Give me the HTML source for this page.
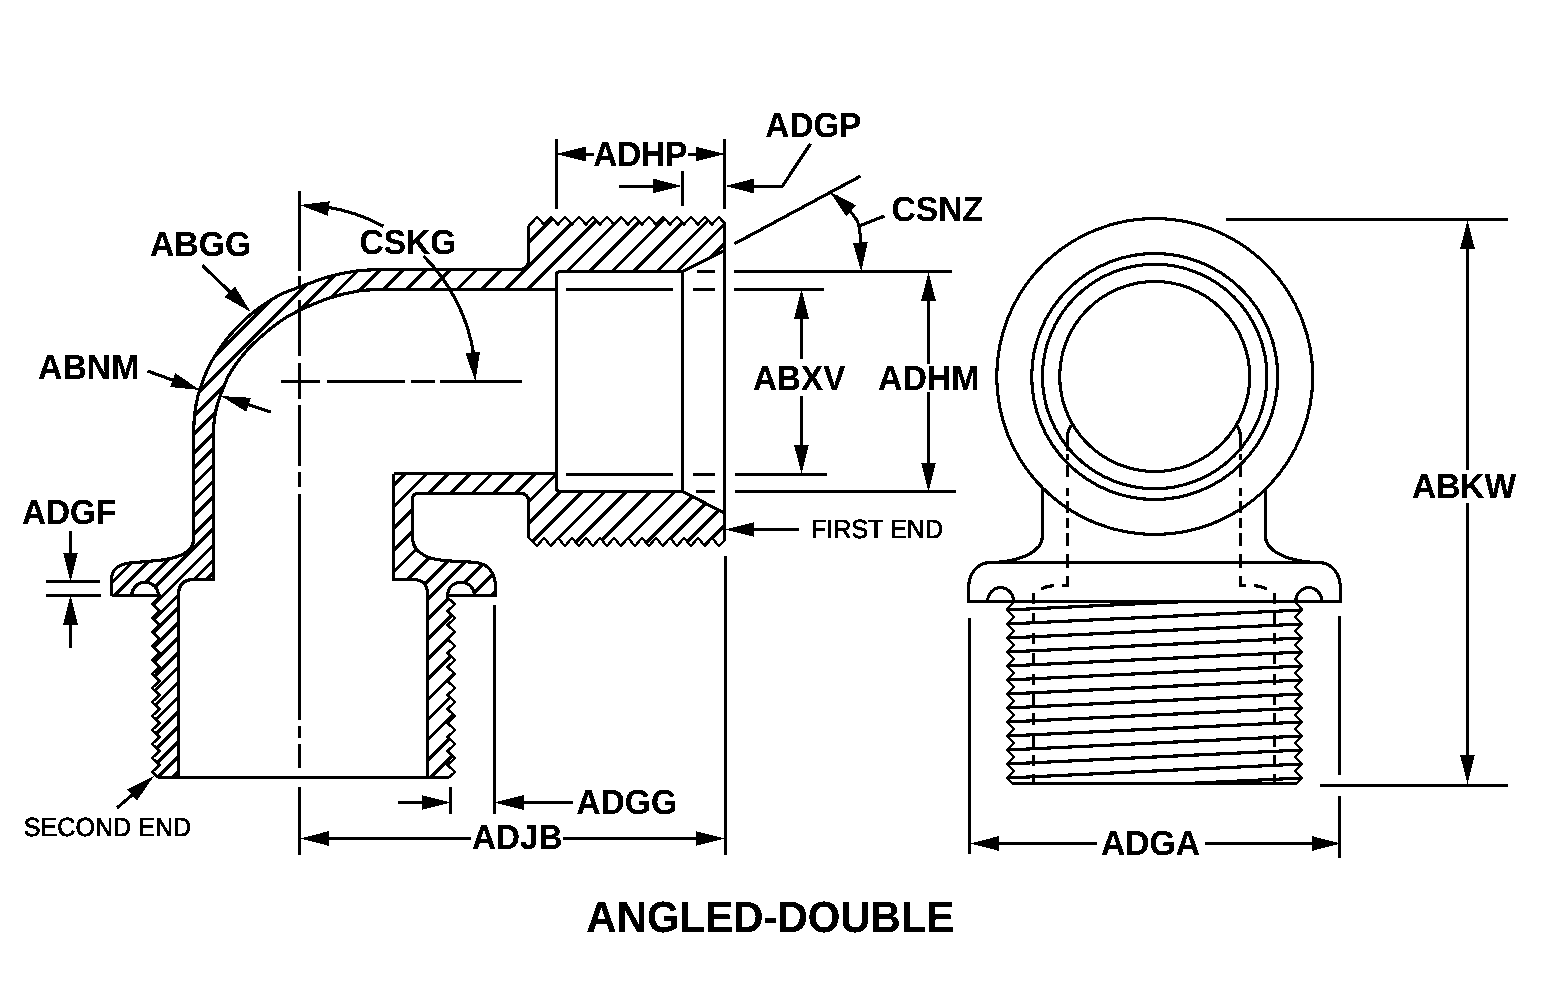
<!DOCTYPE html>
<html lang="en"><head><meta charset="utf-8"><title>ANGLED-DOUBLE</title>
<style>
html,body{margin:0;padding:0;background:#fff}
svg{display:block;filter:url(#bw)}
svg path,svg circle{fill:none;stroke:#000;stroke-width:3.2;stroke-linecap:butt;stroke-linejoin:miter}
svg path.h{fill:#000;stroke:none}
svg text.rg{stroke:#000;stroke-width:0.55px}
svg .hh path{stroke-width:3.35}
svg path.th{stroke-width:2.35}
svg circle,svg path.cv{stroke-width:3.1}
svg text{font-family:"Liberation Sans",Arial,Helvetica,sans-serif;fill:#000;stroke:none}
</style></head><body>
<svg width="1541" height="1008" viewBox="0 0 1541 1008" shape-rendering="crispEdges" text-rendering="geometricPrecision">
<rect width="1541" height="1008" fill="#fff" stroke="none"/>
<defs>
<filter id="bw" x="0" y="0" width="100%" height="100%" color-interpolation-filters="sRGB"><feColorMatrix type="saturate" values="0"/><feComponentTransfer><feFuncR type="discrete" tableValues="0 0 0 1 1"/><feFuncG type="discrete" tableValues="0 0 0 1 1"/><feFuncB type="discrete" tableValues="0 0 0 1 1"/></feComponentTransfer></filter>
<clipPath id="ca"><path d="M111.5 595.5L111.5 579C112 569.5 119 564 130 563L158 560.5C176 558.8 193.5 553 193.5 540L193.5 436C193.62 433.33 193.78 425.17 194.2 420C194.62 414.83 195.03 410.17 196 405C196.97 399.83 197.9 395.33 200 389C202.1 382.67 205.77 373 208.6 367C211.43 361 213.93 357.73 217 353C220.07 348.27 222.45 344.1 227 338.6C231.55 333.1 238.57 325.37 244.3 320C250.03 314.63 255.45 310.6 261.4 306.4C267.35 302.2 273.8 297.97 280 294.8C286.2 291.63 291.45 290.1 298.6 287.4C305.75 284.7 316.5 280.73 322.9 278.6C329.3 276.47 331.05 275.9 337 274.6C342.95 273.3 351.43 271.65 358.6 270.8C365.77 269.95 376.43 269.72 380 269.5L519 269.5Q528.5 269.5 528.5 261L528.5 226.2L537 217.2L544 224.4L551 217.2L558 224.4L565 217.2L572 224.4L579 217.2L586 224.4L593 217.2L600 224.4L607 217.2L614 224.4L621 217.2L628 224.4L635 217.2L642 224.4L649 217.2L656 224.4L663 217.2L670 224.4L677 217.2L684 224.4L691 217.2L698 224.4L705 217.2L712 224.4L719 217.2L724.5 223.2L724.5 250.5L682.5 271.5L560.5 271.5Q556.5 271.5 556.5 275.5L556.5 289.5L400 289.5C396.67 289.53 386.9 289.47 380 289.7C373.1 289.93 366.93 289.53 358.6 290.9C350.27 292.27 340 294.6 330 297.9C320 301.2 306.93 306.78 298.6 310.7C290.27 314.62 287.38 316.03 280 321.4C272.62 326.77 260.97 336.7 254.3 342.9C247.63 349.1 244.28 353.13 240 358.6C235.72 364.07 231.52 370.47 228.6 375.7C225.68 380.93 224.18 385.78 222.5 390C220.82 394.22 219.7 397.17 218.5 401C217.3 404.83 216.08 409 215.3 413C214.52 417 214.1 421 213.8 425C213.5 429 213.55 435 213.5 437L213.5 579.5L194 579.5Q178.5 579.5 178.5 595L178.5 777.5L158.2 777.5L152.3 772L159.5 765L152.3 758L159.5 751L152.3 744L159.5 737L152.3 730L159.5 723L152.3 716L159.5 709L152.3 702L159.5 695L152.3 688L159.5 681L152.3 674L159.5 667L152.3 660L159.5 653L152.3 646L159.5 639L152.3 632L159.5 625L152.3 618L159.5 611L152.3 604L161.2 595.5L158.4 595.5A13.3 13.3 0 0 0 131.8 595.5L111.5 595.5Z"/></clipPath>
<clipPath id="cb"><path d="M393.5 473.5L556.5 473.5L556.5 487Q556.5 491.5 561 491.5L682.5 491.5L724.5 513L724.5 540.5L719 546.1L712 537.9L705 546.1L698 537.9L691 546.1L684 537.9L677 546.1L670 537.9L663 546.1L656 537.9L649 546.1L642 537.9L635 546.1L628 537.9L621 546.1L614 537.9L607 546.1L600 537.9L593 546.1L586 537.9L579 546.1L572 537.9L565 546.1L558 537.9L551 546.1L544 537.9L537 546.1L528.5 537.5L528.5 501.5Q528.5 493.5 520.5 493.5L418 493.5Q412.5 493.5 412.5 499L412.5 538C413 549 420 553 426 556.3C432 559 438 559.8 443.5 560.4C450 561 456 561.4 461 561.6C467 561.9 473 562 477.5 562.8C483 563.8 486.5 565.5 489.3 568.8C492 572 493.5 575 494.3 578C495.3 581.5 495.5 584 495.5 587L495.5 595.5L474.4 595.5A13.4 13.4 0 0 0 447.6 595.5L447.6 597.6L454.8 604L447.6 611L454.8 618L447.6 625L454.8 632L447.6 639L454.8 646L447.6 653L454.8 660L447.6 667L454.8 674L447.6 681L454.8 688L447.6 695L454.8 702L447.6 709L454.8 716L447.6 723L454.8 730L447.6 737L454.8 744L447.6 751L454.8 758L447.6 765L454.8 772L449 777.5L427.5 777.5L427.5 594Q427.5 579.5 413 579.5L393.5 579.5L393.5 473.5Z"/></clipPath>
<clipPath id="ct"><rect x="1000" y="601.5" width="310" height="182"/></clipPath>
</defs>
<g id="hatch" class="hh">
<g clip-path="url(#ca)"><path d="M150 421L740 -169M150 441L740 -149M150 460L740 -130M248.5 380L740 -111.5M270 380L740 -90M293 380L740 -67M316 380L740 -44M340 380L740 -20M366.5 380L740 6.5M391 380L740 31M415 380L740 55M437 380L740 77M558 280.6L740 98.6M558 302.7L740 120.7M558 325.6L740 143.6M558 347L740 165M558 370.6L740 188.6M558 390.6L740 208.6M558 410L740 228M100 527.9L247.9 380M100 546.8L266.8 380M100 562.2L282.2 380M100 578.5L298.5 380M100 594.4L314.4 380M100 610.3L330.3 380M100 627.7L347.7 380M100 642.1L362.1 380M100 658.4L378.4 380M100 673.5L393.5 380M100 686L230 556M100 700.9L230 570.9M100 715.8L230 585.8M100 730.7L230 600.7M100 745.6L230 615.6M100 760.5L230 630.5M100 775.4L230 645.4M100 790.3L230 660.3M100 805.2L230 675.2M100 820.1L230 690.1M100 835L230 705M100 849.9L230 719.9"/></g>
<g clip-path="url(#cb)"><path d="M380 498.7L740 138.7M380 520.4L740 160.4M380 542.1L740 182.1M380 563.8L740 203.8M380 585.5L740 225.5M380 607.2L740 247.2M380 628.9L740 268.9M500 530.6L740 290.6M500 552.3L740 312.3M500 574L740 334M500 596.5L740 356.5M500 618L740 378M500 642L740 402M500 666.5L740 426.5M500 689L740 449M500 709L740 469M500 729L740 489M500 750L740 510M380 646.9L500 526.9M380 667L500 547M380 687.1L500 567.1M380 707.2L500 587.2M380 727.3L500 607.3M380 747.4L500 627.4M380 767.5L500 647.5M380 787.6L500 667.6M380 807.7L500 687.7M380 827.8L500 707.8"/></g>
</g>
<g id="outline">
<path d="M111.5 595.5L111.5 579C112 569.5 119 564 130 563L158 560.5C176 558.8 193.5 553 193.5 540L193.5 436C193.62 433.33 193.78 425.17 194.2 420C194.62 414.83 195.03 410.17 196 405C196.97 399.83 197.9 395.33 200 389C202.1 382.67 205.77 373 208.6 367C211.43 361 213.93 357.73 217 353C220.07 348.27 222.45 344.1 227 338.6C231.55 333.1 238.57 325.37 244.3 320C250.03 314.63 255.45 310.6 261.4 306.4C267.35 302.2 273.8 297.97 280 294.8C286.2 291.63 291.45 290.1 298.6 287.4C305.75 284.7 316.5 280.73 322.9 278.6C329.3 276.47 331.05 275.9 337 274.6C342.95 273.3 351.43 271.65 358.6 270.8C365.77 269.95 376.43 269.72 380 269.5L519 269.5Q528.5 269.5 528.5 261L528.5 226.2M724.5 223.2L724.5 250.5L682.5 271.5L560.5 271.5Q556.5 271.5 556.5 275.5L556.5 289.5L400 289.5C396.67 289.53 386.9 289.47 380 289.7C373.1 289.93 366.93 289.53 358.6 290.9C350.27 292.27 340 294.6 330 297.9C320 301.2 306.93 306.78 298.6 310.7C290.27 314.62 287.38 316.03 280 321.4C272.62 326.77 260.97 336.7 254.3 342.9C247.63 349.1 244.28 353.13 240 358.6C235.72 364.07 231.52 370.47 228.6 375.7C225.68 380.93 224.18 385.78 222.5 390C220.82 394.22 219.7 397.17 218.5 401C217.3 404.83 216.08 409 215.3 413C214.52 417 214.1 421 213.8 425C213.5 429 213.55 435 213.5 437L213.5 579.5L194 579.5Q178.5 579.5 178.5 595L178.5 777.5L158.2 777.5M161.2 595.5L158.4 595.5A13.3 13.3 0 0 0 131.8 595.5L111.5 595.5" stroke-linecap="square"/>
<path d="M528.5 226.2L537 217.2L544 224.4L551 217.2L558 224.4L565 217.2L572 224.4L579 217.2L586 224.4L593 217.2L600 224.4L607 217.2L614 224.4L621 217.2L628 224.4L635 217.2L642 224.4L649 217.2L656 224.4L663 217.2L670 224.4L677 217.2L684 224.4L691 217.2L698 224.4L705 217.2L712 224.4L719 217.2L724.5 223.2M158.2 777.5L152.3 772L159.5 765L152.3 758L159.5 751L152.3 744L159.5 737L152.3 730L159.5 723L152.3 716L159.5 709L152.3 702L159.5 695L152.3 688L159.5 681L152.3 674L159.5 667L152.3 660L159.5 653L152.3 646L159.5 639L152.3 632L159.5 625L152.3 618L159.5 611L152.3 604L161.2 595.5" class="th"/>
<path d="M393.5 473.5L556.5 473.5L556.5 487Q556.5 491.5 561 491.5L682.5 491.5L724.5 513L724.5 540.5M528.5 537.5L528.5 501.5Q528.5 493.5 520.5 493.5L418 493.5Q412.5 493.5 412.5 499L412.5 538C413 549 420 553 426 556.3C432 559 438 559.8 443.5 560.4C450 561 456 561.4 461 561.6C467 561.9 473 562 477.5 562.8C483 563.8 486.5 565.5 489.3 568.8C492 572 493.5 575 494.3 578C495.3 581.5 495.5 584 495.5 587L495.5 595.5L474.4 595.5A13.4 13.4 0 0 0 447.6 595.5L447.6 597.6M449 777.5L427.5 777.5L427.5 594Q427.5 579.5 413 579.5L393.5 579.5L393.5 473.5" stroke-linecap="square"/>
<path d="M724.5 540.5L719 546.1L712 537.9L705 546.1L698 537.9L691 546.1L684 537.9L677 546.1L670 537.9L663 546.1L656 537.9L649 546.1L642 537.9L635 546.1L628 537.9L621 546.1L614 537.9L607 546.1L600 537.9L593 546.1L586 537.9L579 546.1L572 537.9L565 546.1L558 537.9L551 546.1L544 537.9L537 546.1L528.5 537.5M447.6 597.6L454.8 604L447.6 611L454.8 618L447.6 625L454.8 632L447.6 639L454.8 646L447.6 653L454.8 660L447.6 667L454.8 674L447.6 681L454.8 688L447.6 695L454.8 702L447.6 709L454.8 716L447.6 723L454.8 730L447.6 737L454.8 744L447.6 751L454.8 758L447.6 765L454.8 772L449 777.5" class="th"/>
<path d="M130.5 595.5L160 595.5"/>
<path d="M446 595.5L475 595.5"/>
<path d="M158.2 777.5L449 777.5"/>
<path d="M556.5 271.5L556.5 491"/>
<path d="M682.5 271.5L682.5 491.5"/>
<path d="M724.5 222L724.5 541"/>
</g>
<g id="dims">
<path d="M697 271.5L715 271.5"/>
<path d="M734 271.5L952 271.5"/>
<path d="M566 289.5L672.5 289.5"/>
<path d="M692.5 289.5L715 289.5"/>
<path d="M734 289.5L824 289.5"/>
<path d="M566 474.5L672.5 474.5"/>
<path d="M692.5 474.5L715 474.5"/>
<path d="M735 474.5L827 474.5"/>
<path d="M695.5 491.5L715 491.5"/>
<path d="M735 491.5L955.5 491.5"/>
<path d="M299.5 191L299.5 270.6"/>
<path d="M299.5 275.8L299.5 288.3"/>
<path d="M299.5 299.8L299.5 355.5"/>
<path d="M299.5 363L299.5 398.8"/>
<path d="M299.5 405L299.5 465.5"/>
<path d="M299.5 472L299.5 487"/>
<path d="M299.5 494L299.5 720"/>
<path d="M299.5 726L299.5 737.5"/>
<path d="M299.5 744L299.5 767.5"/>
<path d="M299.5 787L299.5 855"/>
<path d="M281 381.5L320 381.5"/>
<path d="M327 381.5L404.8 381.5"/>
<path d="M411.3 381.5L435 381.5"/>
<path d="M440.3 381.5L522 381.5"/>
<path d="M556.5 139L556.5 209"/>
<path d="M724.5 139L724.5 209"/>
<path class="h" d="M556.5 154L585.5 146.6L585.5 161.4Z"/>
<path d="M594 154.5L576.8 154.5"/>
<path class="h" d="M724.5 154L695.5 161.4L695.5 146.6Z"/>
<path d="M687.5 154.5L704.2 154.5"/>
<text transform="translate(593.17 166) scale(0.9556 1)" font-size="34.88" font-weight="bold">ADHP</text>
<path class="h" d="M682 186L653 193.4L653 178.6Z"/>
<path d="M618.75 186.5L661.7 186.5"/>
<path d="M682.5 171L682.5 206"/>
<path class="h" d="M725 186L754 178.6L754 193.4Z"/>
<path d="M782.5 186.5L745.3 186.5"/>
<path d="M782.5 186L810.5 143.75"/>
<text transform="translate(765.37 137) scale(0.9532 1)" font-size="34.88" font-weight="bold">ADGP</text>
<path d="M734.5 243.75L860.75 176"/>
<path d="M836 196C844 204 852 212 857 220.5C859.5 225 861.2 235 861.2 262" class="cv"/>
<path class="h" d="M829.5 191.5L856.04 205.34L846.17 216.36Z"/>
<path class="h" d="M861.2 271.5L852.93 242.73L867.73 242.29Z"/>
<path d="M860 225.75L884.5 216"/>
<text transform="translate(891.45 221) scale(0.9664 1)" font-size="34.88" font-weight="bold">CSNZ</text>
<path class="h" d="M801.5 289.5L808.9 318.5L794.1 318.5Z"/>
<path d="M801.5 358.6L801.5 309.8"/>
<path class="h" d="M801.5 474L794.1 445L808.9 445Z"/>
<path d="M801.5 396.4L801.5 453.7"/>
<text transform="translate(753.07 390) scale(0.9516 1)" font-size="34.88" font-weight="bold">ABXV</text>
<path class="h" d="M928.5 272L935.9 301L921.1 301Z"/>
<path d="M928.5 363.5L928.5 292.3"/>
<path class="h" d="M928.5 491.5L921.1 462.5L935.9 462.5Z"/>
<path d="M928.5 392L928.5 471.2"/>
<text transform="translate(877.95 390) scale(0.9712 1)" font-size="34.88" font-weight="bold">ADHM</text>
<path class="h" d="M725.2 529.5L754.2 522.1L754.2 536.9Z"/>
<path d="M798.75 529.5L745.5 529.5"/>
<text transform="translate(810.93 538) scale(0.9611 1)" font-size="26.16" font-weight="normal" class="rg">FIRST END</text>
<path d="M494.5 605L494.5 813.5"/>
<path d="M450.5 787L450.5 813.5"/>
<path class="h" d="M450.5 802.5L421.5 809.9L421.5 795.1Z"/>
<path d="M398 802.5L430.2 802.5"/>
<path class="h" d="M494.5 802.5L523.5 795.1L523.5 809.9Z"/>
<path d="M572.8 802.5L514.8 802.5"/>
<text transform="translate(576.26 814) scale(0.9646 1)" font-size="34.88" font-weight="bold">ADGG</text>
<path d="M725.5 556L725.5 855"/>
<path class="h" d="M300 838.5L329 831.1L329 845.9Z"/>
<path d="M471 838.5L320.3 838.5"/>
<path class="h" d="M724.8 838.5L695.8 845.9L695.8 831.1Z"/>
<path d="M563.2 838.5L704.5 838.5"/>
<text transform="translate(472.02 849) scale(0.9516 1)" font-size="34.88" font-weight="bold">ADJB</text>
<text transform="translate(23.77 836) scale(0.9604 1)" font-size="26.16" font-weight="normal" class="rg">SECOND END</text>
<path class="h" d="M154 776L136.91 800.57L127.22 789.37Z"/>
<path d="M117 808L138.65 789.28"/>
<text transform="translate(21.97 524) scale(0.9543 1)" font-size="34.88" font-weight="bold">ADGF</text>
<path class="h" d="M70.5 581.5L63.1 552.5L77.9 552.5Z"/>
<path d="M70.5 531L70.5 561.2"/>
<path class="h" d="M70.5 595.5L77.9 624.5L63.1 624.5Z"/>
<path d="M70.5 647.5L70.5 615.8"/>
<path d="M46 581.5L100 581.5"/>
<path d="M46 595.5L101 595.5"/>
<text transform="translate(38.06 379) scale(0.9672 1)" font-size="34.88" font-weight="bold">ABNM</text>
<path class="h" d="M200 390L170.21 387.09L175.25 373.17Z"/>
<path d="M147.5 371L180.91 383.09"/>
<path class="h" d="M221 396L250.88 397.79L246.36 411.89Z"/>
<path d="M271 412L240.33 402.19"/>
<text transform="translate(149.96 256) scale(0.9685 1)" font-size="34.88" font-weight="bold">ABGG</text>
<path class="h" d="M250.75 312L224.73 297.2L235 286.55Z"/>
<path d="M202.5 265.5L236.13 297.91"/>
<text transform="translate(359.56 254) scale(0.9595 1)" font-size="34.88" font-weight="bold">CSKG</text>
<path d="M325.39 206.84A176.5 176.5 0 0 1 383.52 226.29"/>
<path class="h" d="M300 205L329.69 201.25L327.86 215.94Z"/>
<path d="M423.67 256.16A176.5 176.5 0 0 1 474.08 356.84"/>
<path class="h" d="M475.3 381.2L465.35 352.97L480.09 351.66Z"/>
</g>
<g id="right">
<circle cx="1154.7" cy="376.5" r="158"/>
<circle cx="1154.7" cy="376.5" r="123"/>
<circle cx="1154.7" cy="376.5" r="112.25"/>
<circle cx="1154.7" cy="376.5" r="95"/>
<path d="M1042.5 487.74L1042.5 536C1042.5 552 1020 561 995 562.5"/>
<path d="M1265.5 489.14L1265.5 536C1265.5 552 1289 561 1314 562.5"/>
<path d="M968.5 601.5L968.5 587C968.68 585.83 968.97 582.3 969.6 580C970.23 577.7 971.07 575.27 972.3 573.2C973.53 571.13 975.38 569.1 977 567.6C978.62 566.1 980.17 565.05 982 564.2C983.83 563.35 987 562.78 988 562.5L1321 562.5C1322 562.78 1325.17 563.35 1327 564.2C1328.83 565.05 1330.38 566.1 1332 567.6C1333.62 569.1 1335.47 571.13 1336.7 573.2C1337.93 575.27 1338.77 577.7 1339.4 580C1340.03 582.3 1340.32 585.83 1340.5 587L1340.5 601.5Z"/>
<path d="M987.6 601.5A13 13.9 0 0 1 1013.6 601.5" class="cv"/>
<path d="M1295.8 601.5A13 13.9 0 0 1 1321.8 601.5" class="cv"/>
<path d="M1013.9 601.5L1006.7 610L1013.9 617L1006.7 624L1013.9 631L1006.7 638L1013.9 645L1006.7 652L1013.9 659L1006.7 666L1013.9 673L1006.7 680L1013.9 687L1006.7 694L1013.9 701L1006.7 708L1013.9 715L1006.7 722L1013.9 729L1006.7 736L1013.9 743L1006.7 750L1013.9 757L1006.7 764L1013.9 771L1006.7 778L1012.2 783.5" class="th"/>
<path d="M1295.1 601.5L1302.3 610L1295.1 617L1302.3 624L1295.1 631L1302.3 638L1295.1 645L1302.3 652L1295.1 659L1302.3 666L1295.1 673L1302.3 680L1295.1 687L1302.3 694L1295.1 701L1302.3 708L1295.1 715L1302.3 722L1295.1 729L1302.3 736L1295.1 743L1302.3 750L1295.1 757L1302.3 764L1295.1 771L1302.3 778L1296.8 783.5" class="th"/>
<path d="M1012.2 783.5L1296.8 783.5"/>
<g clip-path="url(#ct)"><path d="M1006.7 610L1302.3 596M1006.7 624L1302.3 610M1006.7 638L1302.3 624M1006.7 652L1302.3 638M1006.7 666L1302.3 652M1006.7 680L1302.3 666M1006.7 694L1302.3 680M1006.7 708L1302.3 694M1006.7 722L1302.3 708M1006.7 736L1302.3 722M1006.7 750L1302.3 736M1006.7 764L1302.3 750M1006.7 778L1302.3 764M1006.7 792L1302.3 778"/></g>
<path d="M1073 424.5Q1067.5 428 1067.5 438L1067.5 451"/>
<path d="M1067.5 575.5L1067.5 587"/>
<path d="M1067.5 554L1067.5 568"/>
<path d="M1067.5 533L1067.5 545.5"/>
<path d="M1067.5 517.5L1067.5 528"/>
<path d="M1067.5 500.5L1067.5 513"/>
<path d="M1067.5 487.5L1067.5 496"/>
<path d="M1067.5 464.5L1067.5 477"/>
<path d="M1067.5 454L1067.5 460"/>
<path d="M1033.5 593L1033.5 604"/>
<path d="M1033.5 613L1033.5 623.5"/>
<path d="M1033.5 633L1033.5 644"/>
<path d="M1033.5 653L1033.5 664"/>
<path d="M1033.5 673.5L1033.5 685"/>
<path d="M1033.5 693.5L1033.5 705"/>
<path d="M1033.5 713L1033.5 725"/>
<path d="M1033.5 735L1033.5 747"/>
<path d="M1033.5 755L1033.5 765.5"/>
<path d="M1033.5 774L1033.5 783.5"/>
<path d="M1067.5 585.5L1062 585.5"/>
<path d="M1054 585.7Q1046.5 586 1041 589" class="cv"/>
<path d="M1235 424.5Q1240.5 428 1240.5 438L1240.5 451"/>
<path d="M1240.5 575.5L1240.5 587"/>
<path d="M1240.5 554L1240.5 568"/>
<path d="M1240.5 533L1240.5 545.5"/>
<path d="M1240.5 517.5L1240.5 528"/>
<path d="M1240.5 500.5L1240.5 513"/>
<path d="M1240.5 487.5L1240.5 496"/>
<path d="M1240.5 464.5L1240.5 477"/>
<path d="M1240.5 454L1240.5 460"/>
<path d="M1274.5 593L1274.5 604"/>
<path d="M1274.5 613L1274.5 623.5"/>
<path d="M1274.5 633L1274.5 644"/>
<path d="M1274.5 653L1274.5 664"/>
<path d="M1274.5 673.5L1274.5 685"/>
<path d="M1274.5 693.5L1274.5 705"/>
<path d="M1274.5 713L1274.5 725"/>
<path d="M1274.5 735L1274.5 747"/>
<path d="M1274.5 755L1274.5 765.5"/>
<path d="M1274.5 774L1274.5 783.5"/>
<path d="M1240.5 585.5L1246 585.5"/>
<path d="M1254 585.7Q1261.5 586 1267 589" class="cv"/>
<path d="M1226 219.5L1508 219.5"/>
<path d="M1320 785.5L1508 785.5"/>
<path class="h" d="M1467.5 220L1474.9 249L1460.1 249Z"/>
<path d="M1467.5 470L1467.5 240.3"/>
<path class="h" d="M1467.5 784L1460.1 755L1474.9 755Z"/>
<path d="M1467.5 503L1467.5 763.7"/>
<text transform="translate(1411.96 498) scale(0.9608 1)" font-size="34.88" font-weight="bold">ABKW</text>
<path d="M969.5 618L969.5 853.5"/>
<path d="M1339.5 616L1339.5 775.4"/>
<path d="M1339.5 796L1339.5 858"/>
<path class="h" d="M970 843.5L999 836.1L999 850.9Z"/>
<path d="M1097 843.5L990.3 843.5"/>
<path class="h" d="M1341 843.5L1312 850.9L1312 836.1Z"/>
<path d="M1205 843.5L1320.7 843.5"/>
<text transform="translate(1101.01 855) scale(0.9648 1)" font-size="34.88" font-weight="bold">ADGA</text>
</g>
<text transform="translate(586.35 932) scale(0.9621 1)" font-size="43.6" font-weight="bold">ANGLED-DOUBLE</text>
</svg>
</body></html>
